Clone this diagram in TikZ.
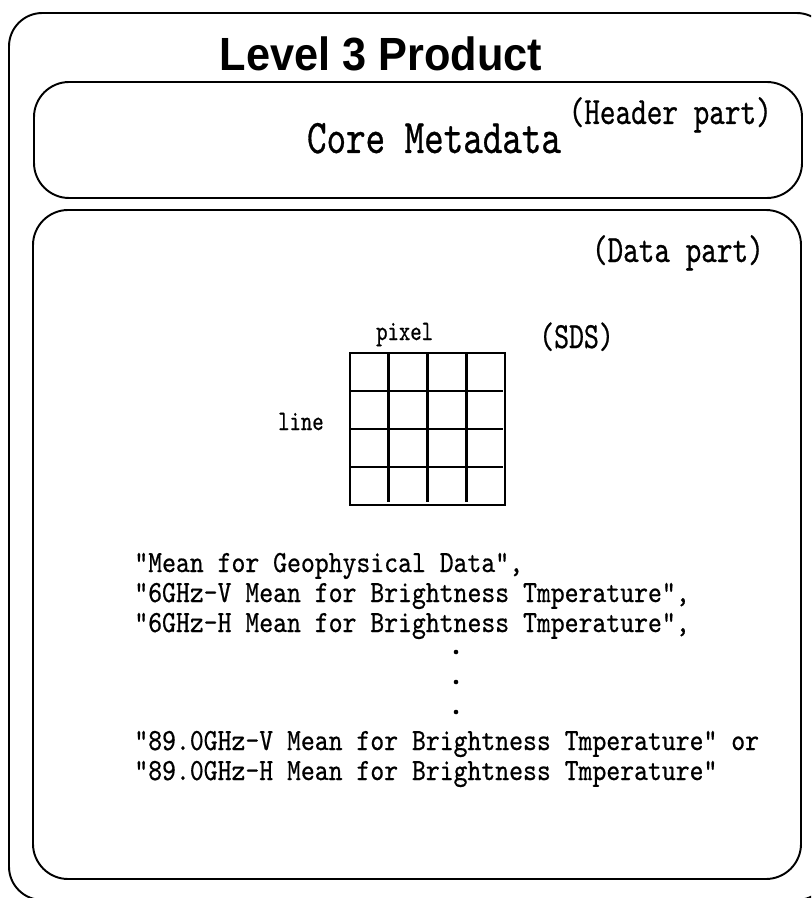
\documentclass[tikz,border=0pt]{standalone}
\usepackage{fontspec}
\newfontfamily\titlefont[FakeStretch=0.93]{Liberation Sans}
\newfontfamily\minchofont[Extension=.otf,FakeStretch=0.77,FakeBold=0.6]{lmmono10-regular}
\newfontfamily\listfont[Extension=.otf,FakeStretch=0.86,FakeBold=0.6]{lmmono10-regular}

\begin{document}
\begin{tikzpicture}[x=0.02cm,y=-0.02cm]
		\useasboundingbox (0,0) rectangle (811,898);
		\clip (0,0) rectangle (811,898);
		\tikzset{
			frame/.style={line width=1.1pt,rounded corners=19pt},
			grid line/.style={line width=1.5pt},
			big label/.style={font=\minchofont\fontsize{27.5}{32}\selectfont},
			part label/.style={font=\minchofont\fontsize{22}{26}\selectfont},
			axis label/.style={font=\minchofont\fontsize{16}{19}\selectfont},
			list text/.style={font=\listfont\fontsize{17.5}{18}\selectfont,inner sep=0pt,
				text height=10.5pt,text depth=3pt,anchor=base west}
		}
		
		% Frames
		\draw[frame] (9,13) rectangle (830,900);
		\draw[frame,rounded corners=20pt] (34,82) rectangle (802,198);
		\draw[frame,rounded corners=20pt] (33,210) rectangle (801,879);
		
		% Title and header
		\node[anchor=base,font=\titlefont\bfseries\fontsize{26.5}{30}\selectfont] (title) at (381,71) {Level 3 Product};
		\node[big label,anchor=base] (core) at (434,153) {Core Metadata};
		\node[part label,anchor=base east] (header) at (778,124) {(Header part)};
		\node[part label,anchor=base east] (data) at (770,262) {(Data part)};
		
		% SDS grid
		\draw[grid line] (350,353) rectangle (505,505);
		\foreach \i in {1,2,3} {
			\draw[grid line] (350+38.75*\i,353) -- (350+38.75*\i,502);
			\draw[grid line] (350,353+38*\i) -- (503,353+38*\i);
		}
		\node[axis label,anchor=base west] (pixel) at (370,340) {pixel};
		\node[axis label,anchor=base west] (line) at (272,430) {line};
		\node[part label,anchor=base west,font=\minchofont\fontsize{21}{25}\selectfont] (sds) at (533,348) {(SDS)};
		
		% Names of the data sets
		\node[list text] (name1) at (134,572) {"Mean for Geophysical Data",};
		\node[list text] (name2) at (134,602) {"6GHz-V Mean for Brightness Tmperature",};
		\node[list text] (name3) at (134,632) {"6GHz-H Mean for Brightness Tmperature",};
		\node[list text] (name4) at (134,750) {"89.0GHz-V Mean for Brightness Tmperature" or};
		\node[list text] (name5) at (134,780) {"89.0GHz-H Mean for Brightness Tmperature"};
		
		% Dots
		\foreach \y/\n in {652/a,682/b,712/c}
			\fill (456,\y) circle (2.3) coordinate (dot\n);
		
\end{tikzpicture}
\end{document}
